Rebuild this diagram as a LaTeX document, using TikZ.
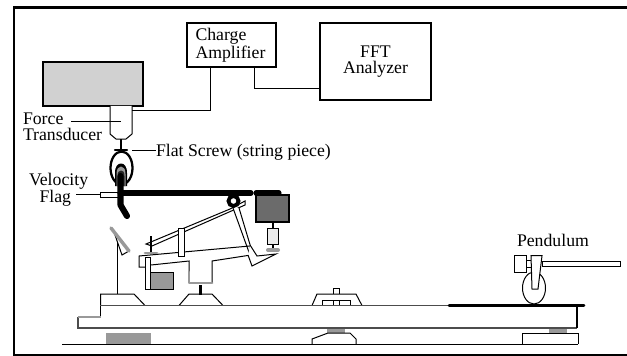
\documentclass[tikz,border=0pt]{standalone}
\usepackage{fontspec}
\setmainfont{Liberation Serif}
\definecolor{ligray}{gray}{0.82}
\definecolor{midgray}{gray}{0.6}
\definecolor{dkgray}{gray}{0.42}
\definecolor{palegray}{gray}{0.92}
\tikzset{x=0.75pt,y=-0.75pt,
 ln/.style={draw=black,line width=0.75pt,line join=miter},
 gl/.style={draw=midgray,line width=2.2pt,line cap=round,line join=round},
 med/.style={draw=black,line width=2pt,line cap=round},
 heavy/.style={draw=black,line width=3.8pt,line cap=round,line join=round},
 lbl/.style={inner sep=0pt,outer sep=0pt,font=\fontsize{13.3}{12}\selectfont,align=left,anchor=north west},
 boxn/.style={draw=black,line width=0.9pt,inner sep=0pt,outer sep=0pt,font=\fontsize{13.3}{12}\selectfont}}
\begin{document}
\begin{tikzpicture}
\useasboundingbox (0,0) rectangle (627,356);
\fill[white] (0,0) rectangle (627,356);
% frame, open at the right
\draw[black,line width=1.6pt,line join=miter] (627,7.5) -- (14,7.5) -- (14,355) -- (627,355);
\draw[black,line width=2.2pt] (13,7.5) -- (627,7.5);
% instruments
\node[boxn,minimum width=66.75pt,minimum height=33pt,align=left,text width=54pt] (amp) at (231.5,45) {Charge\\Amplifier};
\node[boxn,minimum width=83.25pt,minimum height=57.75pt,align=center] (fft) at (375.5,61.5) {FFT\\Analyzer};
\node[boxn,fill=ligray,minimum width=75pt,minimum height=33pt] (shaker) at (93,84) {};
% transducer
\coordinate (tr) at (132,111);
\draw[ln,fill=white] (110,106) -- (110,134) -- (116,139) -- (126,139) -- (132,134) -- (132,106);
\coordinate (ampa) at (210,67);
\coordinate (ampb) at (254,67);
\coordinate (fftin) at (320,89);
\draw[ln] (ampa) |- (tr);
\draw[ln] (ampb) |- (fftin);
\node[lbl] (force) at (23,112.5) {Force\\Transducer};
\coordinate (forceend) at (121,122);
\coordinate (forcestart) at (71,122);
\draw[ln] (forcestart) -- (forceend);
% flat screw
\draw[black,line width=1.5pt] (121,139) -- (121,150);
\draw[med,line width=1.6pt] (115,150) -- (127,150);
\node[lbl,anchor=base west] (screw) at (156,156.5) {Flat Screw (string piece)};
\coordinate (screwend) at (132,150);
\draw[ln] (screwend) -- (screw.base west |- screwend);
% hammer in its oval
\draw[black,line width=1.7pt,fill=white] (121.5,168) ellipse [x radius=11,y radius=16.5];
\fill[black] (115,186) -- (115,173) .. controls (115,166) and (118,163.5) .. (121,163.5) .. controls (124,163.5) and (127,166) .. (127,173) -- (127,186) -- cycle;
\fill[midgray] (116.5,186) -- (116.5,174) .. controls (116.5,169) and (118.5,166.5) .. (121,166.5) .. controls (123.5,166.5) and (125.5,169) .. (125.5,174) -- (125.5,186) -- cycle;
\fill[black!85] (117.5,186) -- (117.5,176) .. controls (117.5,172) and (119,170.5) .. (121,170.5) .. controls (123,170.5) and (124.5,172) .. (124.5,176) -- (124.5,186) -- cycle;
% velocity flag
\node[lbl] (velo) at (29,173) {Velocity\\\hspace*{7.9pt}Flag};
\node[draw=black,line width=0.75pt,fill=white,inner sep=0pt,minimum width=15pt,minimum height=3.75pt] (flag) at (110,194.5) {};
\coordinate (flagstart) at (76,194.5);
\draw[ln] (flagstart) -- (flag.west);
% damper block
\node[boxn,fill=dkgray,minimum width=24.75pt,minimum height=20.25pt] (block) at (272.5,208.5) {};
% shank and bars
\draw[heavy,line width=4.6pt] (120.5,176) -- (120.5,205) -- (127,216);
\draw[heavy] (120,193) -- (251,193);
\draw[heavy] (256,193) -- (279,193);
\node[draw=black,line width=0.75pt,fill=palegray,inner sep=0pt,minimum width=8.5pt,minimum height=12pt] (wire) at (273,236) {};
\coordinate (padc) at (273,250);
\draw[black,line width=1.3pt] (wire.north) -- (wire.north |- block.south);
\draw[black,line width=1.3pt] (wire.south) -- (padc);
% jack and arm
\draw[ln,fill=white] (146,244) -- (230,209) -- (245,201) -- (245,205) -- (152,246) -- cycle;
\draw[ln,fill=white] (233,208) -- (250,255) -- (251,248) -- (239,208);
\draw[black,line width=1pt] (151,236) -- (151,253);
% whippen
\draw[ln] (145,267) -- (139,267) -- (139,256) -- (250,246) -- (251,255) -- (212,261) -- (212,283);
\draw[ln] (189,272) -- (189,261) -- (151,265);
\node[draw=black,line width=0.75pt,fill=white,inner sep=0pt,minimum width=4.5pt,minimum height=21pt] (rail) at (181,242) {};
\draw[gl] (189,272) -- (189,283) -- (212,283);
\draw[gl] (145,253) -- (157,253);
\draw[ln,fill=white] (250,245) -- (257,256) -- (276,254) -- (252,266) -- (248,255);
\draw[midgray,line width=3pt,line cap=round] (268,250) -- (278,250);
% key frame piece
\draw[ln,fill=white] (145.3,257) rectangle (150.7,289);
\draw[ln,fill=midgray] (150.7,272) rectangle (173,289);
% pivot
\draw[black,line width=2.9pt,fill=white] (233.5,201) circle [radius=5];
% left slanted piece
\draw[ln] (115,235) -- (122,255) -- (129,251);
\draw[midgray,line width=2.6pt,line cap=round] (111,228) -- (129,251);
\draw[ln] (117.5,243) -- (117.5,294);
% base
\draw[black,line width=2.2pt] (200.7,285) -- (200.7,295);
\draw[ln] (100.7,305.5) -- (100.7,294) -- (134,294) -- (145,305.5);
\draw[ln] (179,305.5) -- (189,294) -- (212,294) -- (223,305.5);
\draw[ln] (312,305.5) -- (317,294) -- (356,294) -- (362,305.5);
\draw[ln] (322.7,305.5) -- (322.7,300) -- (350.7,300) -- (350.7,305.5);
\draw[ln] (333,305.5) -- (333,300);
\draw[ln] (339,305.5) -- (339,300);
\draw[ln] (333,294) -- (333,288.7) -- (339,288.7) -- (339,294);
% key board
\draw[ln] (100.7,305.5) -- (100.7,317);
\draw[draw=black!70,line width=0.9pt] (78,317) -- (78,328) -- (577,328);
\draw[draw=black!70,line width=0.9pt] (100.7,305.5) -- (449,305.5);
\draw[gl,line cap=butt,line width=1.7pt] (78,317) -- (100.7,317);
\draw[black,line width=2.2pt,line cap=round] (449,305.5) -- (584,305.5);
\draw[black,line width=2.2pt] (577,305.5) -- (577,328);
% supports
\fill[midgray] (106,333) rectangle (151,344);
\fill[midgray] (327,328.5) rectangle (345,333);
\fill[midgray] (549,328.5) rectangle (567,333);
\draw[ln] (312,344) -- (312,339) -- (328,333) -- (350,333) -- (356,339) -- (356,344);
\draw[ln] (522,344) -- (522,333) -- (578,333) -- (578,344);
\draw[ln] (62,344) -- (578,344);
% pendulum
\node[lbl] (pend) at (517,234) {Pendulum};
\draw[ln,fill=white] (534,288) ellipse [x radius=11.5,y radius=16];
\draw[ln,fill=white] (526,260) rectangle (531,267);
\draw[ln,fill=white] (514,255.7) rectangle (526,272);
\draw[ln,fill=white] (542,261) rectangle (620,266.7);
\draw[ln,fill=white] (531,255.7) -- (542,255.7) -- (538,289) -- (532,289) -- cycle;
\end{tikzpicture}
\end{document}
